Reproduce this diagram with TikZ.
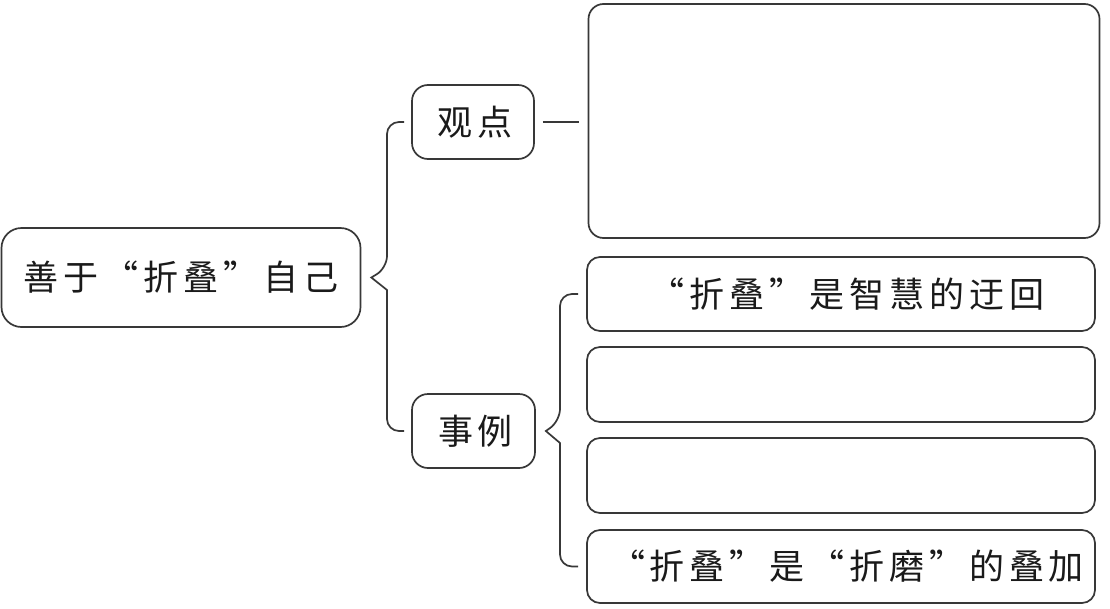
\documentclass[tikz,border=0pt]{standalone}
\usepackage{fontspec}
\newfontfamily\cjk{Noto Sans CJK SC}[LetterSpace=14]
\definecolor{linec}{HTML}{383838}
\definecolor{textc}{HTML}{1A1A1A}
\begin{document}
\begin{tikzpicture}[x=1pt,y=-1pt,
  box/.style={draw=linec, line width=1.7pt, rounded corners=13pt, inner sep=0pt, text=textc,
    font=\fontsize{35pt}{40pt}\cjk},
  conn/.style={draw=linec, line width=1.7pt}]
\useasboundingbox (0,0) rectangle (1110,608);
\fill[white] (0,0) rectangle (1110,608);
% nodes
\node[box, rounded corners=20pt, minimum width=359pt, minimum height=99pt] (root) at (181,277.5) {善于“折叠”自己};
\node[box, rounded corners=16pt, minimum width=122pt, minimum height=74pt] (guan) at (473,122) {\hspace*{4pt}观点};
\node[box, rounded corners=16pt, minimum width=123pt, minimum height=74pt] (shili) at (473.5,431) {\hspace*{4pt}事例};
\node[box, rounded corners=15pt, minimum width=511pt, minimum height=234pt] (big) at (844,121) {};
\node[box, minimum width=508pt, minimum height=74pt] (b1) at (841,294) {\hspace*{12pt}“折叠”是智慧的迂回};
\node[box, minimum width=508pt, minimum height=75pt] (b2) at (841,384.5) {};
\node[box, minimum width=508pt, minimum height=75pt] (b3) at (841,475.5) {};
\node[box, minimum width=508pt, minimum height=73pt] (b4) at (841,566.5) {\hspace*{12pt}“折叠”是“折磨”的叠加};
% brace 1
\coordinate (t1) at ([xshift=10pt]root.east);
\coordinate (a1) at ([xshift=-7pt]guan.west);
\coordinate (c1) at ([xshift=-7pt]shili.west);
\draw[conn] (a1) [rounded corners=12pt] -- (387,122) -- (387,268) [sharp corners] -- (t1) -- (387,290)
  [rounded corners=12pt] -- (387,431) -- (c1);
% connector guan -- big
\draw[conn] ([xshift=8pt]guan.east) -- ([xshift=-9pt]guan.east -| big.west);
% brace 2
\coordinate (t2) at ([xshift=10pt]shili.east);
\coordinate (a2) at ([xshift=-8pt]b1.west);
\coordinate (c2) at ([xshift=-8pt]b4.west);
\draw[conn] (a2) [rounded corners=12pt] -- (560,294) -- (560,421) [sharp corners] -- (t2) -- (560,443)
  [rounded corners=12pt] -- (560,566.5) -- (c2);
\end{tikzpicture}
\end{document}
